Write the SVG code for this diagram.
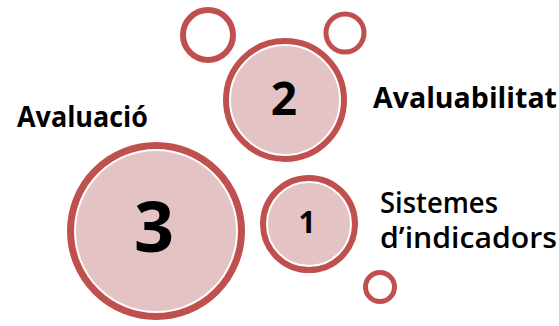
<svg xmlns="http://www.w3.org/2000/svg" width="559" height="326" viewBox="0 0 559 326">
<style>
.ring{fill:none;stroke:#c0504d}
.disk{fill:#e4c3c4;stroke:#ffffff;stroke-width:2}
.num{font-family:"Open Sans","Liberation Sans",sans-serif;font-weight:700;fill:#000;text-anchor:middle}
.lbl{font-family:"Open Sans","Liberation Sans",sans-serif;font-weight:700;font-size:28px;fill:#000}
.lbl2{font-family:"Open Sans","Liberation Sans",sans-serif;font-weight:600;font-size:28px;fill:#000}
</style>
<rect width="559" height="326" fill="#ffffff"/>
<g id="ring-a"><circle class="ring" cx="208" cy="35" r="25" stroke-width="6"/></g>
<g id="ring-b"><circle class="ring" cx="345" cy="33" r="19" stroke-width="5"/></g>
<g id="ring-c"><circle class="ring" cx="380" cy="287" r="14.5" stroke-width="5"/></g>
<g id="node-2">
<circle class="disk" cx="285" cy="100" r="55"/>
<circle class="ring" cx="285" cy="100" r="59" stroke-width="6"/>
<text class="num" x="284" y="115" font-size="46">2</text>
</g>
<g id="node-3">
<circle class="disk" cx="156" cy="231" r="81"/>
<circle class="ring" cx="156" cy="231" r="85.5" stroke-width="7"/>
<text class="num" x="154" y="252" font-size="70">3</text>
</g>
<g id="node-1">
<circle class="disk" cx="309" cy="224" r="42"/>
<circle class="ring" cx="309" cy="224" r="46" stroke-width="6"/>
<text class="num" x="307" y="233" font-size="30">1</text>
</g>
<g id="labels">
<text class="lbl" x="17" y="127" textLength="131" lengthAdjust="spacingAndGlyphs">Avaluació</text>
<text class="lbl" x="373" y="108" textLength="184" lengthAdjust="spacingAndGlyphs">Avaluabilitat</text>
<text class="lbl2" x="380" y="213" textLength="118" lengthAdjust="spacingAndGlyphs">Sistemes</text>
<text class="lbl2" x="380" y="248" textLength="177" lengthAdjust="spacingAndGlyphs">d’indicadors</text>
</g>
<g id="connectors"></g>
</svg>
